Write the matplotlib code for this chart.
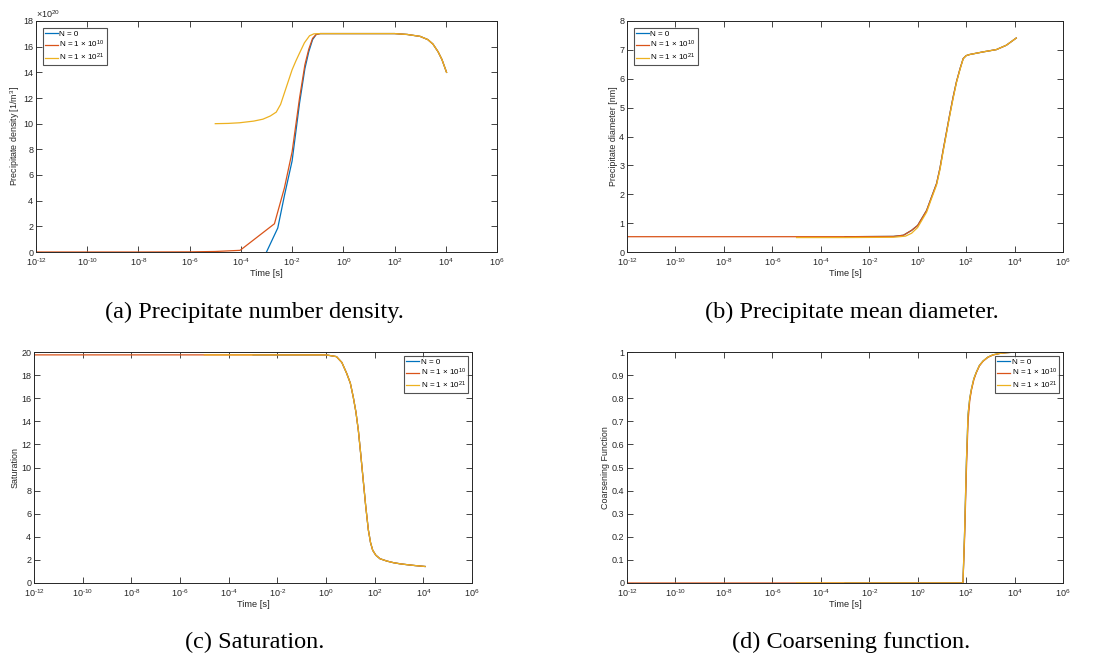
import numpy as np
import matplotlib
matplotlib.use('Agg')
import matplotlib.pyplot as plt

plt.rcParams['font.family'] = ['Liberation Sans', 'DejaVu Sans']
plt.rcParams['mathtext.fontset'] = 'custom'
plt.rcParams['mathtext.rm'] = 'Liberation Sans'
plt.rcParams['mathtext.default'] = 'rm'

# series labels and colours (MATLAB default order)
labels = ['N = 0', 'N = 1 × 10$^{10}$', 'N = 1 × 10$^{21}$']
colors = ['#0072BD', '#D95319', '#EDB120']

# ---- (a) precipitate number density, values in units of 1e20 1/m^3 ----
tail_lt = [-0.9, 0.0, 1.0, 2.0, 2.5, 3.0, 3.3, 3.5, 3.7, 3.85, 4.03]
tail_v = [17.02, 17.02, 17.02, 17.02, 16.95, 16.8, 16.55, 16.2, 15.6, 15.0, 14.0]
a_blue_lt = [-3.0, -2.56, -2.3, -2.0, -1.71, -1.5, -1.35, -1.2, -1.06] + tail_lt
a_blue_v = [0.0, 1.87, 4.4, 7.1, 11.6, 14.3, 15.6, 16.55, 16.95] + tail_v
a_red_lt = [-12, -8, -6, -5, -4.03, -2.69, -2.3, -2.0, -1.71, -1.5, -1.35, -1.2, -1.06] + tail_lt
a_red_v = [0.0, 0.0, 0.01, 0.04, 0.13, 2.2, 5.0, 7.8, 12.0, 14.6, 15.8, 16.65, 16.95] + tail_v
a_yel_lt = [-5.0, -4.5, -4.05, -3.5, -3.14, -2.85, -2.62, -2.45, -2.3, -2.15, -2.0,
            -1.85, -1.71, -1.52, -1.32, -1.15] + tail_lt
a_yel_v = [10.0, 10.02, 10.07, 10.2, 10.35, 10.6, 10.9, 11.5, 12.4, 13.3, 14.2,
           14.9, 15.5, 16.3, 16.85, 17.0] + tail_v

# ---- (b) precipitate mean diameter [nm] ----
b_rise_lt = [-0.59, -0.25, 0.0, 0.37, 0.55, 0.78, 0.92, 1.05, 1.2, 1.33, 1.46, 1.6,
             1.75, 1.88, 2.0, 2.15, 2.7, 3.25, 3.66, 4.07]
b_rise_v = [0.58, 0.75, 0.92, 1.44, 1.85, 2.37, 2.9, 3.52, 4.2, 4.79, 5.35, 5.89,
            6.35, 6.7, 6.8, 6.84, 6.93, 7.01, 7.16, 7.41]
b_red_lt = [-12, -6, -3, -1.0] + b_rise_lt
b_red_v = [0.53, 0.53, 0.53, 0.54] + b_rise_v
b_blue_lt = [-3, -1.0] + b_rise_lt
b_blue_v = [0.53, 0.54] + b_rise_v
b_yel_lt = [-5.0, -3.0, -1.0, -0.5, -0.25, 0.0, 0.37, 0.55, 0.78, 0.92, 1.05, 1.2, 1.33,
            1.46, 1.6, 1.75, 1.88, 2.0, 2.15, 2.7, 3.25, 3.66, 4.07]
b_yel_v = [0.5, 0.5, 0.51, 0.55, 0.65, 0.85, 1.38, 1.8, 2.32, 2.85, 3.47, 4.15, 4.75,
           5.3, 5.86, 6.33, 6.69, 6.8, 6.84, 6.93, 7.01, 7.16, 7.41]

# ---- (c) saturation ----
c_drop_lt = [0.0, 0.43, 0.65, 0.85, 1.0, 1.12, 1.23, 1.33, 1.43, 1.53, 1.63, 1.74,
             1.83, 1.92, 2.05, 2.22, 2.5, 2.77, 3.05, 3.32, 3.66, 4.07]
c_drop_v = [19.75, 19.6, 19.1, 18.15, 17.3, 16.1, 14.8, 13.2, 11.1, 8.9, 6.7, 4.6,
            3.5, 2.83, 2.4, 2.1, 1.9, 1.76, 1.66, 1.59, 1.51, 1.43]
c_red_lt = [-12, -6] + c_drop_lt
c_red_v = [19.75, 19.75] + c_drop_v
c_blue_lt = [-3] + c_drop_lt
c_blue_v = [19.75] + c_drop_v
c_yel_lt = [-5] + c_drop_lt
c_yel_v = [19.75] + c_drop_v

# ---- (d) coarsening function ----
d_red_lt = [-12, -6, 0, 1.87, 1.94, 2.01, 2.08, 2.15, 2.22, 2.32, 2.42, 2.55, 2.7,
            2.9, 3.11, 3.4, 3.66, 4.07]
d_red_v = [0, 0, 0, 0, 0.2, 0.48, 0.7, 0.79, 0.835, 0.88, 0.91, 0.94, 0.96,
           0.977, 0.987, 0.994, 0.997, 1.0]
d_yel_lt = [-5, 0, 1.87, 1.94, 2.01, 2.08, 2.15, 2.22, 2.32, 2.42, 2.55, 2.7,
            2.9, 3.11, 3.4, 3.66, 4.07]
d_yel_v = [0, 0, 0, 0.23, 0.52, 0.73, 0.8, 0.84, 0.885, 0.912, 0.942, 0.961,
           0.978, 0.988, 0.994, 0.997, 1.0]
d_blue_lt = [-3] + d_yel_lt[1:]
d_blue_v = [0] + d_yel_v[1:]

panels = [
    dict(series=[(a_blue_lt, a_blue_v), (a_red_lt, a_red_v), (a_yel_lt, a_yel_v)],
         ylabel='Precipitate density [1/m$^3$]', yticks=np.arange(0, 19, 2), ylim=(0, 18),
         loc='upper left', caption='(a) Precipitate number density.'),
    dict(series=[(b_blue_lt, b_blue_v), (b_red_lt, b_red_v), (b_yel_lt, b_yel_v)],
         ylabel='Precipitate diameter [nm]', yticks=np.arange(0, 9, 1), ylim=(0, 8),
         loc='upper left', caption='(b) Precipitate mean diameter.'),
    dict(series=[(c_blue_lt, c_blue_v), (c_red_lt, c_red_v), (c_yel_lt, c_yel_v)],
         ylabel='Saturation', yticks=np.arange(0, 21, 2), ylim=(0, 20),
         loc='upper right', caption='(c) Saturation.'),
    dict(series=[(d_blue_lt, d_blue_v), (d_red_lt, d_red_v), (d_yel_lt, d_yel_v)],
         ylabel='Coarsening Function', yticks=np.round(np.arange(0, 1.01, 0.1), 1), ylim=(0, 1),
         loc='upper right', caption='(d) Coarsening function.'),
]

W, H = 1102, 657
fig = plt.figure(figsize=(W / 100, H / 100), dpi=100)

# axes boxes in pixels: left, right, top, bottom ; caption centre x, y ; legend pad
boxes = [(36, 497, 21, 252, 254, 312, 0.9),
         (627, 1063, 21, 252, 852, 312, 0.9),
         (34, 472, 352, 583, 255, 642, 0.5),
         (627, 1063, 352, 583, 851, 642, 0.5)]

xt = [10.0 ** k for k in range(-12, 7, 2)]
xtl = ['10$^{%s}$' % str(k).replace('-', '\u2010') for k in range(-12, 7, 2)]
ink = '#262626'

for p, (l, r, t, b, cx, cy, lpad) in zip(panels, boxes):
    ax = fig.add_axes([l / W, 1 - b / H, (r - l) / W, (b - t) / H])
    for (lt, v), c, lab in zip(p['series'], colors, labels):
        ax.plot(10.0 ** np.array(lt), v, color=c, lw=0.9, label=lab)
    ax.set_xscale('log')
    ax.set_xlim(1e-12, 1e6)
    ax.set_ylim(*p['ylim'])
    ax.set_xticks(xt)
    ax.set_xticklabels(xtl)
    ax.minorticks_off()
    ax.set_yticks(p['yticks'])
    ax.set_yticklabels(['%g' % y for y in p['yticks']])
    ax.tick_params(direction='in', top=True, right=True, length=4, width=0.6,
                   labelsize=6.5, colors=ink, pad=2)
    ax.tick_params(axis='x', pad=3)
    for s in ax.spines.values():
        s.set_color(ink)
        s.set_linewidth(0.7)
    ax.set_xlabel('Time [s]', fontsize=6.7, color=ink, labelpad=1)
    ax.set_ylabel(p['ylabel'], fontsize=6.4, color=ink, labelpad=1)
    leg = ax.legend(loc=p['loc'], fontsize=5.8, frameon=True, fancybox=False,
                    handlelength=1.6, handletextpad=0.15, borderpad=0.25,
                    labelspacing=0.15, borderaxespad=lpad)
    leg.get_frame().set_edgecolor(ink)
    leg.get_frame().set_linewidth(0.8)
    fig.text(cx / W, 1 - cy / H, p['caption'], ha='center', va='center',
             fontsize=17.5, family='Liberation Serif')
    if p['caption'].startswith('(a)'):
        ax.text(0.0, 1.005, '×10$^{20}$', transform=ax.transAxes, fontsize=6.5,
                color=ink, ha='left', va='bottom')

fig.savefig('out.png', dpi=100)
